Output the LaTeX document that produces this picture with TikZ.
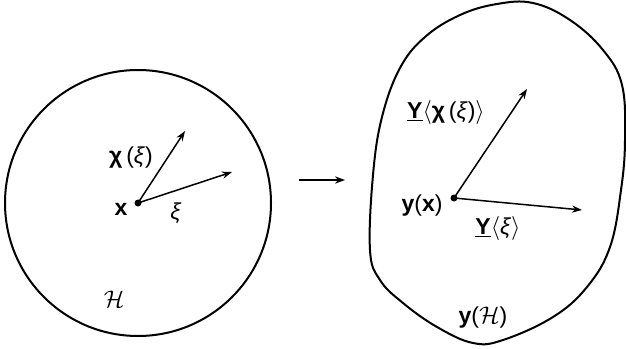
\documentclass[tikz,border=0pt]{standalone}
\usepackage{fontspec}
\setmainfont{Liberation Sans}
\usetikzlibrary{arrows.meta}
\tikzset{
  vec/.style={line width=0.75pt,-{Stealth[length=5pt,width=3.6pt]}},
  lbl/.style={inner sep=0pt,font=\fontsize{11.5}{13}\selectfont},
}
\begin{document}
\begin{tikzpicture}[x=0.5pt,y=-0.5pt]
  \useasboundingbox (0,0) rectangle (626,348);
  % domain
  \draw[line width=1pt] (138,203) circle (133);
  \coordinate (x) at (138,203);
  \coordinate (chi) at (185,131);
  \coordinate (xi) at (232,172);
  \draw[vec] (x) -- (chi);
  \draw[vec] (x) -- (xi);
  \fill (x) circle (3.5);
  \node[lbl] (lx) at (121,209) {\textbf{x}};
  \node[lbl] (lchi) at (131,158) {\textbf{χ}\,(\textit{ξ})};
  \node[lbl] (lxi) at (176,213) {\textit{ξ}};
  \node[lbl] (lH) at (114,299) {$\mathcal{H}$};
  % map
  \coordinate (m1) at (299,180);
  \coordinate (m2) at (345,180);
  \draw[vec] (m1) -- (m2);
  % image
  \draw[line width=1pt] plot[smooth cycle,tension=0.65] coordinates {
    (373,175) (382,117) (400,68) (425,37) (460,15) (497,4) (533,3)
    (570,20) (603,50) (622,85) (625,140) (621,190) (610,247) (587,287)
    (553,317) (503,340) (473,343) (437,327) (403,303) (380,280) (370,250)};
  \coordinate (y) at (454,198);
  \coordinate (Ychi) at (527,89);
  \coordinate (Yxi) at (582,210);
  \draw[vec] (y) -- (Ychi);
  \draw[vec] (y) -- (Yxi);
  \fill (y) circle (3.5);
  \node[lbl] (ly) at (422,206) {\textbf{y}(\textbf{x})};
  \node[lbl] (lYchi) at (446,112) {\underline{\textbf{Y}}$\langle$\textbf{χ}\,(\textit{ξ})$\rangle$};
  \node[lbl] (lYxi) at (498,228) {\underline{\textbf{Y}}$\langle$\textit{ξ}$\rangle$};
  \node[lbl] (lyH) at (483,318) {\textbf{y}($\mathcal{H}$)};
\end{tikzpicture}
\end{document}
